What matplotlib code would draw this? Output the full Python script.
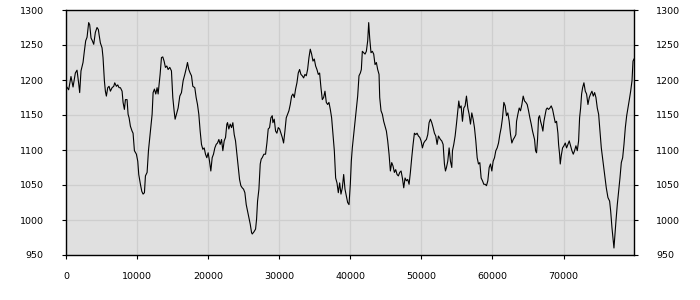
import matplotlib
matplotlib.use("Agg")
import matplotlib.pyplot as plt

# x positions and values
x_vals = [
    50, 375, 700, 990, 1315, 1550, 1785, 1925, 2110, 2395, 2580, 2770, 2960, 3190, 3335,
    3520, 3710, 3900, 4130, 4365, 4555, 4650, 4835, 5070, 5210, 5400, 5540, 5680, 5870,
    6055, 6245, 6480, 6715, 6855, 7090, 7280, 7465, 7655, 7890, 8030, 8215, 8360, 8590,
    8735, 8875, 9060, 9295, 9435, 9625, 9905, 10095, 10235, 10470, 10660, 10845, 11035,
    11175, 11410, 11600, 11785, 11975, 12115, 12255, 12440, 12630, 12815,
    12960, 13100, 13240, 13430, 13615, 13800, 13990, 14180, 14365, 14600, 14835, 15025,
    15210, 15350, 15540, 15775, 16010, 16245, 16480, 16715, 16950, 17090, 17280, 17465,
    17655, 17840, 18120, 18310, 18500, 18685, 18875, 19060, 19250, 19440, 19625, 19810,
    20000, 20190, 20375, 20565, 20750, 20940, 21130, 21315, 21505, 21690, 21880, 22065,
    22255, 22445, 22630, 22725, 22910, 23100, 23290, 23475, 23665, 23850, 24040, 24225,
    24415, 24600, 24790, 24980, 25165, 25355, 25540, 25730, 25920, 26105,
    26200, 26435, 26670, 26810, 26950, 27140, 27325, 27465, 27605, 27840, 28075, 28265,
    28450, 28640, 28825, 29015, 29110, 29295, 29485, 29670, 29860, 30050, 30235, 30425,
    30610, 30800, 30985, 31175, 31360, 31550, 31740, 31925, 32115, 32300, 32490, 32675,
    32865, 33050, 33240, 33430, 33615, 33805, 33990, 34180, 34365, 34555, 34745, 34930,
    35120, 35305, 35495, 35680, 35870, 36060, 36245, 36435, 36620, 36810, 36995, 37185,
    37370, 37560, 37750, 37935, 38125, 38310, 38500, 38685, 38875, 39065, 39250,
    39440, 39625, 39815, 40000, 40140, 40280, 40470, 40660, 40845, 41035, 41220, 41410,
    41550, 41690, 41880, 42070, 42255, 42445, 42585, 42725, 42910, 43100, 43290, 43475,
    43665, 43850, 44040, 44135, 44320, 44510, 44695, 44885, 45075, 45260, 45450, 45635,
    45825, 46010, 46200, 46385, 46575, 46760, 46950, 47140, 47325, 47515, 47700, 47890,
    48075, 48265, 48450, 48640, 48830, 49015, 49205, 49390, 49580, 49770, 49955, 50145,
    50330, 50520, 50705, 50895, 51080, 51270, 51460, 51645, 51835, 52020, 52210, 52395,
    52680, 52865, 53055, 53240, 53385, 53525, 53710, 53900, 54085, 54275, 54370, 54555,
    54745, 54930, 55120, 55260, 55400, 55590, 55775, 55965, 56150, 56340, 56530, 56715,
    56905, 57090, 57280, 57465, 57655, 57845, 58030, 58220, 58405, 58595, 58780, 58970,
    59155, 59345, 59535, 59720, 59910, 60095, 60285, 60470, 60660, 60850, 61035, 61225,
    61410, 61600, 61785, 61975, 62160, 62350, 62540, 62725, 62915, 63100, 63290, 63385,
    63570, 63760, 63945, 64135, 64320, 64510, 64695, 64885, 65075, 65260, 65450, 65635,
    65920, 66060, 66200, 66340, 66480, 66620, 66765, 66950, 67090, 67235, 67420, 67560,
    67700, 67890, 68080, 68265, 68455, 68640, 68830, 69015, 69205, 69300, 69440, 69535,
    69675, 69860, 70050, 70240, 70425, 70615, 70800, 70990, 71175, 71365, 71550, 71740,
    71930, 72115, 72255, 72400, 72540, 72680, 72865, 73055, 73240, 73430, 73620, 73805,
    73995, 74180, 74370, 74555, 74745, 74935, 75120, 75310, 75545, 75780, 76010, 76245,
    76480, 76625, 76810, 76950, 77090, 77235, 77375, 77560, 77750, 77935, 78125, 78315,
    78500, 78690, 78880, 79065, 79255, 79440, 79630, 79770, 79910,
]
y_vals = [
    1191, 1186, 1205, 1190, 1210, 1214, 1195, 1182, 1213, 1225, 1241, 1256, 1261, 1282, 1279,
    1260, 1256, 1251, 1268, 1275, 1272, 1265, 1253, 1246, 1232, 1199, 1184, 1177, 1189,
    1191, 1184, 1189, 1191, 1196, 1191, 1193, 1189, 1189, 1184, 1168, 1158, 1172, 1172,
    1151, 1146, 1134, 1127, 1124, 1099, 1094, 1084, 1065, 1051, 1041, 1037, 1039,
    1063, 1068, 1099, 1118, 1137, 1151, 1182, 1187, 1180, 1189,
    1180, 1194, 1208, 1232, 1233, 1227, 1218, 1220, 1215, 1218, 1213, 1175,
    1156, 1144, 1151, 1160, 1177, 1182, 1199, 1208, 1218, 1225, 1215, 1210,
    1206, 1191, 1189, 1175, 1165, 1151, 1127, 1108, 1101, 1103, 1094, 1089,
    1096, 1084, 1070, 1089, 1094, 1103, 1108, 1110, 1115, 1108, 1115, 1099,
    1113, 1118, 1137, 1139, 1130, 1137, 1132, 1139, 1122, 1113, 1094, 1075,
    1058, 1049, 1046, 1044, 1039, 1022, 1013, 1003, 994, 982,
    980, 983, 987, 1001, 1027, 1044, 1080, 1087, 1089, 1094, 1094, 1110,
    1130, 1132, 1146, 1149, 1139, 1144, 1127, 1124, 1132, 1130, 1124, 1118,
    1110, 1127, 1146, 1151, 1156, 1165, 1177, 1180, 1175, 1187, 1196, 1210,
    1215, 1208, 1206, 1203, 1208, 1206, 1215, 1232, 1244, 1237, 1227, 1230,
    1220, 1215, 1208, 1210, 1189, 1172, 1175, 1184, 1168, 1165, 1168, 1158,
    1146, 1122, 1099, 1060, 1053, 1039, 1053, 1037, 1046, 1065, 1044,
    1034, 1025, 1022, 1051, 1084, 1103, 1122, 1141, 1160, 1177, 1206, 1210,
    1215, 1241, 1239, 1237, 1241, 1256, 1282, 1260, 1239, 1241, 1237, 1222,
    1225, 1215, 1208, 1175, 1156, 1151, 1141, 1134, 1127, 1113, 1094, 1070,
    1082, 1077, 1068, 1072, 1065, 1063, 1068, 1070, 1060, 1046, 1060, 1056,
    1058, 1051, 1068, 1089, 1108, 1124, 1122, 1124, 1120, 1118, 1113, 1103,
    1110, 1113, 1115, 1122, 1139, 1144, 1139, 1132, 1124, 1120, 1108, 1120,
    1115, 1113, 1108, 1080, 1070, 1075, 1084, 1103, 1084, 1075, 1099, 1108,
    1120, 1137, 1156, 1170, 1160, 1163, 1141, 1160, 1163, 1177, 1160, 1151,
    1137, 1153, 1144, 1132, 1113, 1089, 1080, 1082, 1060, 1056, 1051, 1051,
    1049, 1056, 1075, 1080, 1070, 1084, 1089, 1099, 1103, 1110, 1122, 1132,
    1146, 1168, 1163, 1149, 1153, 1141, 1122, 1110, 1115, 1118, 1122, 1141,
    1151, 1160, 1156, 1165, 1177, 1170, 1168, 1165, 1156, 1146, 1137, 1127,
    1115, 1099, 1096, 1115, 1146, 1149, 1141, 1134, 1127, 1141, 1151, 1158,
    1160, 1158, 1160, 1163, 1158, 1149, 1139, 1141, 1124, 1108, 1094, 1080,
    1092, 1103, 1106, 1110, 1103, 1108, 1113, 1106, 1099, 1094, 1099, 1106,
    1099, 1113, 1146, 1160, 1180, 1189, 1196, 1184, 1180, 1165, 1175, 1180,
    1184, 1177, 1182, 1175, 1160, 1151, 1127, 1103, 1084, 1065, 1046, 1032,
    1027, 1013, 989, 975, 960, 980, 999, 1022, 1041, 1060, 1082, 1089,
    1108, 1132, 1149, 1160, 1172, 1184, 1199, 1227, 1230,
]

x_ticks = [0, 10000, 20000, 30000, 40000, 50000, 60000, 70000]
y_ticks = [950, 1000, 1050, 1100, 1150, 1200, 1250, 1300]

fig = plt.figure(figsize=(7, 3), dpi=100)
ax = fig.add_axes([66 / 700, 1 - 255 / 300, (634 - 66) / 700, (255 - 10) / 300])
ax.set_facecolor("#e0e0e0")
ax.plot(x_vals, y_vals, color="black", linewidth=0.8)

ax.set_xlim(0, x_vals[-1])
ax.set_ylim(950, 1300)
ax.set_xticks(x_ticks)
ax.set_yticks(y_ticks)
ax.grid(True, color="#cecece", linewidth=0.9)
ax.set_axisbelow(True)

for s in ax.spines.values():
    s.set_color("black")
    s.set_linewidth(1.0)

ax.tick_params(axis="y", which="both", left=True, right=True, labelleft=True,
               labelright=True, length=3, width=0.8, pad=13, labelsize=6.8,
               direction="out")
ax.tick_params(axis="x", length=3, width=0.8, pad=9, labelsize=6.8, direction="out")

fig.savefig("out.png", dpi=100)
